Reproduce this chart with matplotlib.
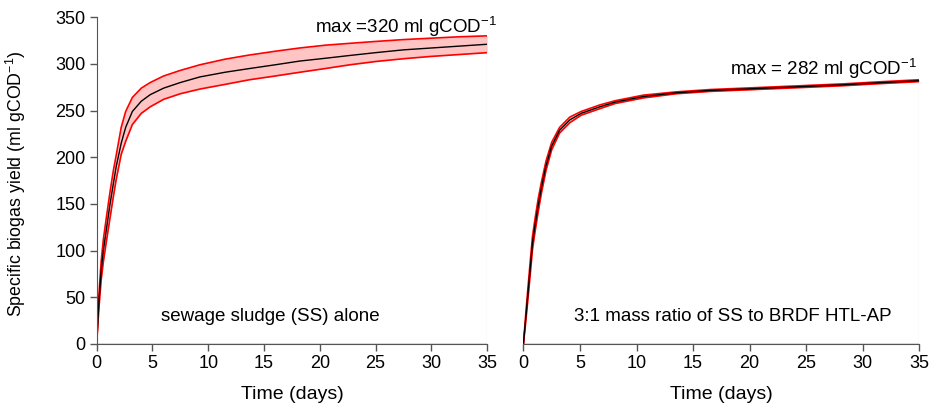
import numpy as np
import matplotlib.pyplot as plt

plt.rcParams['font.family'] = ['Liberation Sans', 'DejaVu Sans']
plt.rcParams['mathtext.fontset'] = 'custom'
plt.rcParams['mathtext.rm'] = 'Liberation Sans'
plt.rcParams['mathtext.it'] = 'Liberation Sans:italic'

# sewage sludge alone
ss_days = [0, 0.2, 0.4, 0.6, 0.9, 1.2, 1.5, 1.75, 2.2, 2.6, 3.2, 4, 4.8, 6, 7.5, 9.25,
           11.5, 13.7, 16, 18.2, 20.5, 22.7, 25, 27.5, 30, 32.5, 35]
ss_mean = [0, 45, 78, 100, 125, 150, 172, 190, 215, 232, 249, 260, 267, 274, 280, 286,
           291, 295, 299, 303, 306, 309, 312, 315, 317, 319, 321]
ss_upper = [0, 52, 88, 112, 138, 163, 186, 202, 232, 249, 264, 274, 280, 287, 293, 299,
            305, 309.5, 313.5, 317, 320, 322, 324, 326, 327.5, 329, 330]
ss_lower = [0, 38, 68, 88, 112, 135, 158, 176, 203, 217, 235, 247, 254, 262, 268, 273,
            278, 283, 287, 291, 295, 299, 302.5, 305.5, 308, 310, 312]

# 3:1 SS to BRDF HTL-AP
mix_days = [0, 0.2, 0.4, 0.6, 0.8, 1.0, 1.3, 1.6, 2.0, 2.5, 3.2, 4.1, 5.1, 6.75, 8.1, 10.6,
            13.5, 16.5, 19.5, 22.4, 25.3, 28.3, 31.5, 35]
mix_mean = [0, 27, 54, 81, 108, 125, 148, 168, 191, 212, 229, 240, 247, 254, 259, 265,
            269, 271.5, 273, 274.5, 276, 277.6, 279.8, 282]
mix_upper = [0, 31, 60, 88, 115, 132, 155, 174, 196, 216, 232, 243, 249, 256, 260.5, 266.5,
             270, 272.5, 274, 275.5, 277, 278.6, 280.8, 283]
mix_lower = [0, 23, 48, 74, 101, 118, 141, 162, 186, 208, 226, 237, 245, 252, 257.5, 263.5,
             268, 270.5, 272, 273.5, 275, 276.6, 278.8, 281]

panels = [
    (ss_days, ss_mean, ss_upper, ss_lower, 'sewage sludge (SS) alone', 0.444),
    (mix_days, mix_mean, mix_upper, mix_lower, '3:1 mass ratio of SS to BRDF HTL-AP', 0.53),
]

fig = plt.figure(figsize=(9.33, 4.07), dpi=100)
ax1 = fig.add_axes([0.1036, 0.1548, 0.4185, 0.803])
ax2 = fig.add_axes([0.561, 0.1548, 0.4244, 0.803])
axes = [ax1, ax2]

spine_col = '#555555'
for ax, p in zip(axes, panels):
    days, mean, upper, lower, label, lx = p
    ax.fill_between(days, lower, upper, color='#ffc4c4', lw=0)
    ax.plot(days, upper, color='red', lw=1.2)
    ax.plot(days, lower, color='red', lw=1.2)
    ax.plot(days, mean, color='black', lw=1.0)
    # area edge down to the baseline, as in the original
    ax.plot([days[-1], days[-1]], [0, upper[-1]], color='#ffb0b0', lw=0.8)
    ax.plot([days[0], days[-1]], [0, 0], color='#cc3333', lw=1.0, zorder=4)
    ax.set_xlim(0, 35)
    ax.set_ylim(0, 350)
    ax.set_xticks(np.arange(0, 36, 5))
    ax.set_yticks(np.arange(0, 351, 50))
    ax.tick_params(direction='out', length=5, width=1, color=spine_col, labelsize=13, pad=3)
    ax.set_xlabel('Time (days)', fontsize=14, labelpad=10)
    for s in ['top', 'right']:
        ax.spines[s].set_visible(False)
    ax.spines['bottom'].set_color(spine_col)
    ax.spines['left'].set_color(spine_col)
    ax.text(lx, 29 / 350, label, transform=ax.transAxes, ha='center', va='center', fontsize=13.5)
    ax.patch.set_alpha(0)

ax1.text(35.9, 333, 'max =320 ml gCOD$^{-1}$', ha='right', va='baseline', fontsize=13.5, clip_on=False)
ax2.text(34.8, 288, 'max = 282 ml gCOD$^{-1}$', ha='right', va='baseline', fontsize=13.5)

ax1.set_ylabel('Specific biogas yield (ml gCOD$^{-1}$)', fontsize=12.8)
ax1.yaxis.set_label_coords(-0.175, 0.49)
ax2.spines['left'].set_visible(False)
ax2.tick_params(axis='y', left=False, labelleft=False)

fig.savefig('out.png', dpi=100)
